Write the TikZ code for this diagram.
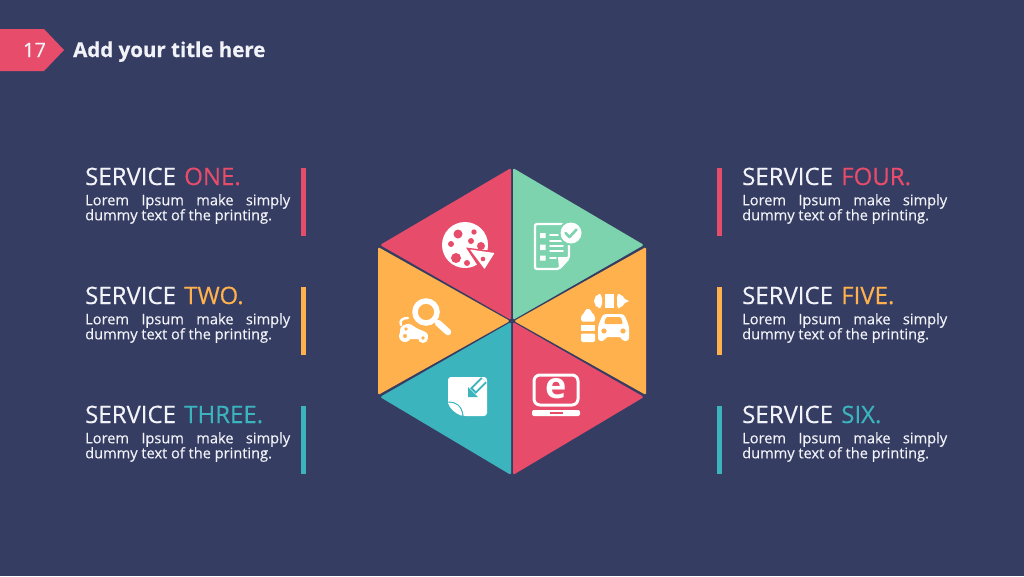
\documentclass[tikz,border=0pt]{standalone}
\usepackage{fontspec}
\setmainfont{Open Sans}
\newfontfamily\medfont[FakeBold=0.3]{Open Sans}
\newfontfamily\titlefont[FakeBold=0.6]{Open Sans Bold}
\usetikzlibrary{positioning}
\definecolor{navy}{HTML}{363D63}
\definecolor{rosered}{HTML}{E84C6B}
\definecolor{mint}{HTML}{7CD3AE}
\definecolor{amber}{HTML}{FFB14E}
\definecolor{tealblue}{HTML}{3BB4BD}
\definecolor{paper}{HTML}{F2F3F8}
\begin{document}
\begin{tikzpicture}[
		x=1pt,y=-1pt,
		head/.style = {anchor=base west,inner sep=0pt,text=paper,font=\fontsize{24}{26}\medfont},
		lorem/.style = {inner sep=0pt,text=paper,align=left,font=\fontsize{14.6}{15}\medfont},
		sector/.style = {rounded corners=1.5pt},
		bar/.style = {minimum width=5pt,minimum height=68pt,inner sep=0pt},
		wt/.style = {white,line cap=round,line join=round}
		]
		\fill[navy] (0,0) rectangle (1024,576);
		\useasboundingbox (0,0) rectangle (1024,576);

		% title tag
		\fill[rosered] (0,29) -- (44,29) -- (64,50) -- (44,71) -- (0,71) -- cycle;
		\node[inner sep=0pt,text=paper,font=\fontsize{20}{24}\medfont] (num) at (34.5,50) {17};
		\node[anchor=base west,inner sep=0pt,text=paper,font=\fontsize{20.5}{24}\titlefont] (title) at (73,57) {Add your title here};

		% hexagon
		\fill[rosered,sector] (511,320) -- (511,168) -- (380,245) -- cycle;
		\fill[mint,sector] (513,320) -- (513,168) -- (644,245) -- cycle;
		\fill[amber,sector] (510,321) -- (378,247) -- (378,395) -- cycle;
		\fill[amber,sector] (514,321) -- (646,247) -- (646,395) -- cycle;
		\fill[tealblue,sector] (511,322) -- (380,397) -- (511,475) -- cycle;
		\fill[rosered,sector] (513,322) -- (644,397) -- (513,475) -- cycle;

		% pizza
		\fill[white] (465,245) circle (23);
		\fill[rosered] (466,247.5) -- (489,250.5) -- (497,256) -- (484,271) -- (478,266) -- cycle;
		\fill[white,rounded corners=0.5pt] (470,249.5) -- (494.5,253) -- (484.5,269) -- cycle;
		\fill[rosered] (458,234) circle (4.5) (474,232) circle (2.7) (471,241) circle (3)
			(481,246) circle (4) (451,244) circle (3) (456,258) circle (5)
			(467,263) circle (3) (483,259) circle (2.3);

		% checklist
		\draw[wt,line width=2.3pt,rounded corners=2pt] (562,224) -- (535,224) -- (535,269) -- (559,269) -- (569,258) -- (569,240);
		\fill[white] (558,257) -- (568,257) -- (559,268) -- cycle;
		\fill[white] (540,233) rectangle (545.5,238) (540,244.5) rectangle (545.5,250) (540,255.5) rectangle (545.5,260.5);
		\draw[wt,line width=1.8pt] (550,235) -- (558,235) (550,241) -- (563,241) (550,246) -- (563,246) (550,251) -- (563,251) (550,258) -- (556,258);
		\fill[mint] (571,233) circle (12.5);
		\fill[white] (571,233) circle (10.5);
		\draw[mint,line width=2.6pt,line cap=round,line join=round] (565.5,233) -- (569.5,237) -- (576.5,229.5);

		% search and car
		\draw[white,line width=5.5pt] (426,312) circle (11);
		\draw[wt,line width=6.5pt] (438,323) -- (448,332);
		\fill[white,rounded corners=3pt] (400,339) -- (400,327) -- (409,323) -- (416,328) -- (428,333) -- (428,339) -- cycle;
		\fill[white] (405,336) circle (6) (423,338) circle (5);
		\fill[amber] (405,336) circle (2) (423,338) circle (1.8) (406,329) circle (1.8);
		\draw[wt,line width=2.4pt] (401,325) .. controls (399,320) and (403,318) .. (408,318);

		% capsule
		\fill[white,rounded corners=4pt] (602,294) -- (598,294) -- (594,298) -- (594,304) -- (598,308) -- (602,308) -- cycle;
		\fill[white] (604.5,294) rectangle (614,308);
		\fill[white,rounded corners=3pt] (617,294) -- (620,294) -- (625,298) -- (625,304) -- (620,308) -- (617,308) -- cycle;
		\fill[white] (624,298.5) -- (629,301) -- (624,303.5) -- cycle;
		% bottle
		\fill[white,rounded corners=1.5pt] (585.5,309) -- (590.5,309) -- (591,312) -- (595,316) -- (595,321.5) -- (581,321.5) -- (581,316) -- (585,312) -- cycle;
		\fill[white] (581,324.5) rectangle (595,331);
		\fill[white,rounded corners=1.5pt] (581,333.5) rectangle (595,342);
		\fill[white] (581,333.5) rectangle (595,337);
		% car
		\fill[white,rounded corners=3pt] (598,341) -- (598,326) -- (603,314) -- (624,314) -- (629,326) -- (629,341) -- (622,341) -- (622,337) -- (605,337) -- (605,341) -- cycle;
		\fill[amber,rounded corners=1.5pt] (604,324) -- (606,317) -- (621,317) -- (623,324) -- cycle;
		\fill[amber] (604,331) circle (2.6) (623,331) circle (2.6);

		% sticky note
		\fill[white,rounded corners=3pt] (448,377) -- (487,377) -- (487,416) -- (462,416) -- (448,403) -- cycle;
		\fill[white,rounded corners=1pt] (448,403) -- (457,403) .. controls (461,404) and (462,408) .. (462,416) .. controls (455,413) and (450,409) .. (448,403);
		\draw[tealblue,line width=1pt] (449,402) .. controls (455,402) and (462,405) .. (463,416);
		\draw[tealblue,line width=8pt] (473,391) -- (484,380);
		\draw[white,line width=4pt] (474.5,389.5) -- (484,380);
		\fill[tealblue] (468,397) -- (468,387) -- (478,397) -- cycle;

		% laptop
		\draw[white,line width=3pt,rounded corners=6pt] (534,375) rectangle (578,405);
		\node[inner sep=0pt,text=white,font=\fontsize{36}{38}\selectfont\bfseries] (ebrowser) at (556,389) {e};
		\fill[white,rounded corners=2pt] (532,410) rectangle (580,416);
		\fill[rosered] (550,412) rectangle (563,414);

		% left column
		\node[head] at (85,185) (s1) {SERVICE\hspace{2pt} \textcolor{rosered}{ONE.}};
		\node[lorem,below=9pt of s1.base west,anchor=north west] (t1) {\makebox[205pt][s]{Lorem Ipsum make simply}\\dummy text of the printing.};
		\node[bar,fill=rosered] at (303.5,202) (b1) {};
		\node[head] at (85,304) (s2) {SERVICE\hspace{2pt} \textcolor{amber}{TWO.}};
		\node[lorem,below=9pt of s2.base west,anchor=north west] (t2) {\makebox[205pt][s]{Lorem Ipsum make simply}\\dummy text of the printing.};
		\node[bar,fill=amber] at (303.5,321) (b2) {};
		\node[head] at (85,423) (s3) {SERVICE\hspace{2pt} \textcolor{tealblue}{THREE.}};
		\node[lorem,below=9pt of s3.base west,anchor=north west] (t3) {\makebox[205pt][s]{Lorem Ipsum make simply}\\dummy text of the printing.};
		\node[bar,fill=tealblue] at (303.5,440) (b3) {};

		% right column
		\node[head] at (742,185) (s4) {SERVICE\hspace{2pt} \textcolor{rosered}{FOUR.}};
		\node[lorem,below=9pt of s4.base west,anchor=north west] (t4) {\makebox[205pt][s]{Lorem Ipsum make simply}\\dummy text of the printing.};
		\node[bar,fill=rosered] at (719.5,202) (b4) {};
		\node[head] at (742,304) (s5) {SERVICE\hspace{2pt} \textcolor{amber}{FIVE.}};
		\node[lorem,below=9pt of s5.base west,anchor=north west] (t5) {\makebox[205pt][s]{Lorem Ipsum make simply}\\dummy text of the printing.};
		\node[bar,fill=amber] at (719.5,321) (b5) {};
		\node[head] at (742,423) (s6) {SERVICE\hspace{2pt} \textcolor{tealblue}{SIX.}};
		\node[lorem,below=9pt of s6.base west,anchor=north west] (t6) {\makebox[205pt][s]{Lorem Ipsum make simply}\\dummy text of the printing.};
		\node[bar,fill=tealblue] at (719.5,440) (b6) {};
	\end{tikzpicture}
\end{document}
